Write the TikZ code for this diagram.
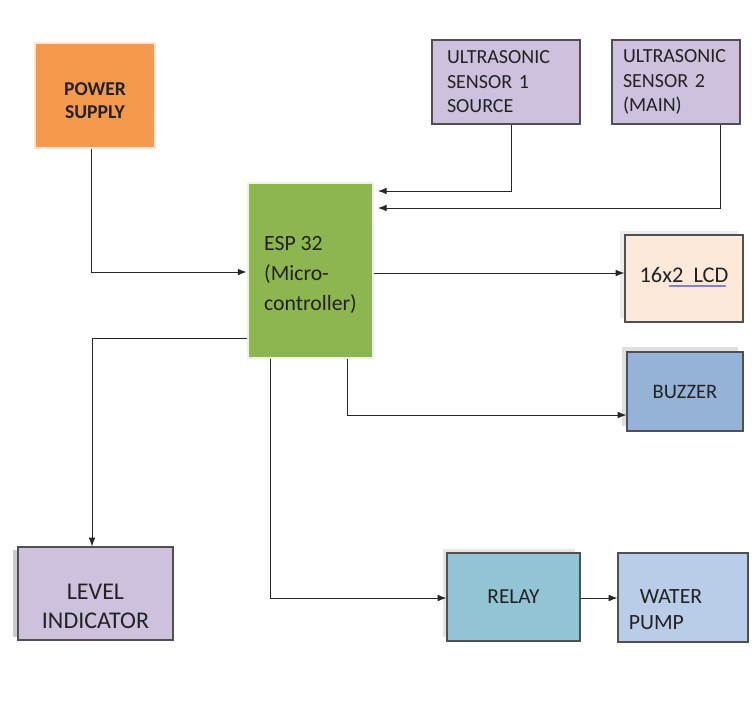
\documentclass[tikz,border=0pt]{standalone}
\usepackage{fontspec}
\setmainfont{Carlito}
\usetikzlibrary{arrows.meta}
\definecolor{orangeF}{HTML}{F5994E}
\definecolor{orangeB}{HTML}{FBE5D3}
\definecolor{lav}{HTML}{CDC1DE}
\definecolor{greenF}{HTML}{8DB651}
\definecolor{greenB}{HTML}{EEF0E2}
\definecolor{lcdF}{HTML}{FDE9DA}
\definecolor{buzF}{HTML}{95B3D7}
\definecolor{relF}{HTML}{93C4D4}
\definecolor{pumpF}{HTML}{B9CDE8}
\definecolor{edge}{HTML}{505050}
\definecolor{txt}{HTML}{222222}
\tikzset{
  box/.style={draw=edge, line width=0.9pt, text=txt, align=left, inner sep=0pt},
  lab/.style={text=txt, inner sep=0pt, align=left},
  txtA/.style={font=\fontsize{15}{18.4}\selectfont},
  conn/.style={draw=black!85, line width=0.7pt},
  arr/.style={conn, -{Latex[length=6.5pt,width=5pt]}}
}
\begin{document}
\begin{tikzpicture}[x=0.75pt,y=-0.75pt]
\useasboundingbox[fill=white] (0,0) rectangle (755,715);
% shadows
\fill[black!12] (622,347) rectangle (738,426);
\fill[black!20] (13,550) rectangle (30,637);
\fill[black!10] (443,549) rectangle (575,637);
\fill[black!8] (620,231) rectangle (738,318);
% boxes
\node[box, draw=orangeB, line width=2.2pt, fill=orangeF, minimum width=90pt, minimum height=78.75pt,
  label={[lab, align=center, yshift=-3.75pt, font=\fontsize{14.7}{17.3}\selectfont\bfseries]center:{POWER\\SUPPLY}}] (ps) at (95,95.5) {};
\node[box, fill=lav, minimum width=111pt, minimum height=63pt, txtA, text width=88.5pt, inner xsep=11.25pt] (us1) at (506,82) {ULTRASONIC\\SENSOR 1\\SOURCE};
\node[box, fill=lav, minimum width=96pt, minimum height=63pt, txtA, text width=79.5pt, inner xsep=8.25pt] (us2) at (676,82) {ULTRASONIC\\SENSOR 2\\(MAIN)};
\node[box, draw=greenB, line width=2.2pt, fill=greenF, minimum width=93.75pt, minimum height=131.25pt,
  label={[lab, yshift=-3.4pt, font=\fontsize{16.3}{22.5}\selectfont]center:{ESP 32\\(Micro-\\controller)}}] (esp) at (310.5,270.5) {};
\node[box, fill=lcdF, minimum width=88.5pt, minimum height=65.25pt,
  label={[lab, yshift=2.6pt, font=\fontsize{16.8}{20}\selectfont]center:{16x2\ \ LCD}}] (lcd) at (684,278.5) {};
\node[box, fill=buzF, minimum width=87pt, minimum height=59.25pt, font=\fontsize{15.4}{18}\selectfont] (buz) at (685,391.5) {BUZZER};
\node[box, fill=lav, minimum width=116.25pt, minimum height=69.75pt,
  label={[lab, align=center, yshift=-9.75pt, font=\fontsize{18}{22}\selectfont]center:{LEVEL\\INDICATOR}}] (lvl) at (95.5,593.5) {};
\node[box, fill=relF, minimum width=99.75pt, minimum height=66pt, font=\fontsize{16}{18}\selectfont] (rel) at (513.5,597) {RELAY};
\node[box, fill=pumpF, minimum width=97.5pt, minimum height=66.75pt,
  label={[lab, xshift=-13.1pt, yshift=-9pt, font=\fontsize{16.3}{19}\selectfont]center:{\hspace{8.25pt}WATER\\PUMP}}] (pump) at (683,597.5) {};
% spell-check underline
\draw[blue!40!gray!70, line width=1.2pt] (669,286) -- (726,286);
% connectors
\draw[arr] (ps.south -| 91,0) |- (esp.west |- 0,272);
\draw[arr] (us1.south -| 511,0) |- (378,191);
\draw[arr] (us2.south -| 720,0) |- (378,208);
\draw[arr] (esp.east |- 0,273) -- (lcd.west |- 0,273);
\draw[arr] (esp.south -| 347,0) |- (buz.west |- 0,415);
\draw[arr] (esp.west |- 0,338) -| (lvl.north -| 92,0);
\draw[arr] (esp.south -| 270,0) |- (rel.west |- 0,598);
\draw[arr] (rel.east |- 0,598) -- (pump.west |- 0,598);
\end{tikzpicture}
\end{document}
